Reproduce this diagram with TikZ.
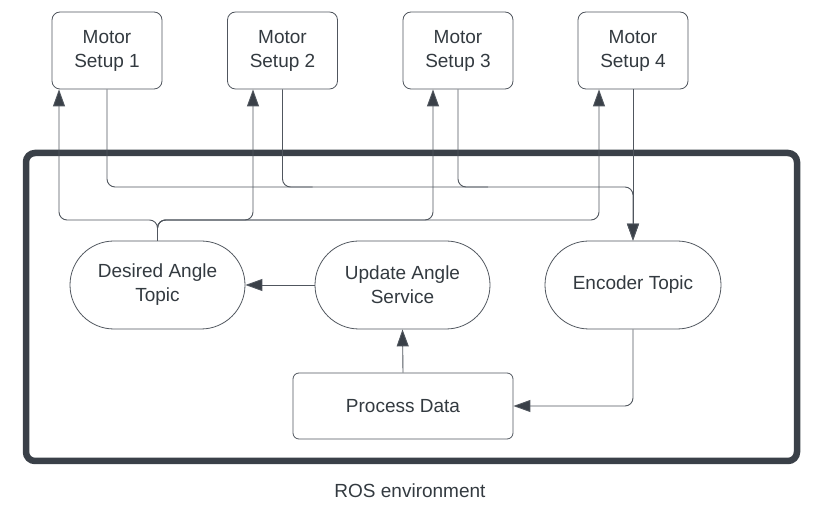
\documentclass[tikz,border=0pt]{standalone}
\usepackage{fontspec}
\setmainfont{Liberation Sans}
\usetikzlibrary{arrows.meta}
\definecolor{inkDark}{HTML}{3A4048}
\definecolor{inkLine}{HTML}{50565E}
\definecolor{inkText}{HTML}{333A40}

\begin{document}
\begin{tikzpicture}
[x=1pt,y=-1pt,
  motorBox/.style={shape=rectangle,draw=inkLine,line width=0.8pt,rounded corners=8pt,
    minimum width=110pt,minimum height=77pt,align=center,text=inkText,
    font=\fontsize{19}{24}\selectfont},
  topicNode/.style={shape=rectangle,draw=inkLine,line width=0.8pt,rounded corners=44pt,
    minimum width=175pt,minimum height=88pt,align=center,text=inkText,
    font=\fontsize{19}{24}\selectfont},
  procBox/.style={shape=rectangle,draw=inkLine,line width=0.8pt,rounded corners=6pt,
    minimum width=220pt,minimum height=66pt,align=center,text=inkText,
    font=\fontsize{19}{24}\selectfont},
  wireLine/.style={-,draw=inkLine,line width=0.9pt,rounded corners=8pt},
  flowArrow/.style={wireLine,-{Triangle[length=17pt,width=12pt,fill=inkDark]}}]
\useasboundingbox (0,0) rectangle (815,518);
%% ROS environment frame
\draw[draw=inkDark,line width=6.5pt,rounded corners=9pt] (26,153) rectangle (797,461);
\node (rosLabel) at (410,491) [text=inkText,font=\fontsize{19}{24}\selectfont] {ROS environment};
%% motor setups
\foreach \name/\x/\num in {m1/107/1, m2/282.5/2, m3/458/3, m4/633/4}
{
  \node (\name) at (\x,50.5) [motorBox] {Motor\\Setup \num};
}
%% topics, service and processing
\node (desired) at (157.5,285) [topicNode] {Desired Angle\\Topic};
\node (update) at (402.5,285) [topicNode] {Update Angle\\Service};
\node (encoder) at (633,285) [topicNode,minimum width=176pt] {Encoder Topic};
\node (proc) at (403,406) [procBox] {Process Data};
\coordinate (bus) at (0,187);
\coordinate (fork) at (157.5,220);
%% desired angle out to every motor
\foreach \target/\dx in {m1/-48, m2/-29.5, m3/-25, m4/-34}
{
  \draw[flowArrow] (desired.north) -- (fork) -| ([xshift=\dx pt]\target.south);
}
%% encoder readings back from the motors
\draw[flowArrow] (m1.south) -- (m1.south |- bus) -| (encoder.north);
\draw[wireLine] (m2.south) |- ([xshift=30pt]m2.south |- bus);
\draw[wireLine] (m3.south) |- ([xshift=30pt]m3.south |- bus);
\draw[flowArrow] (m4.south) -- (encoder.north);
%% inner flow
\draw[flowArrow] (update.west) -- (desired.east);
\draw[flowArrow] (proc.north) -- (update.south);
\draw[flowArrow] (encoder.south) |- (proc.east);
\end{tikzpicture}
\end{document}
